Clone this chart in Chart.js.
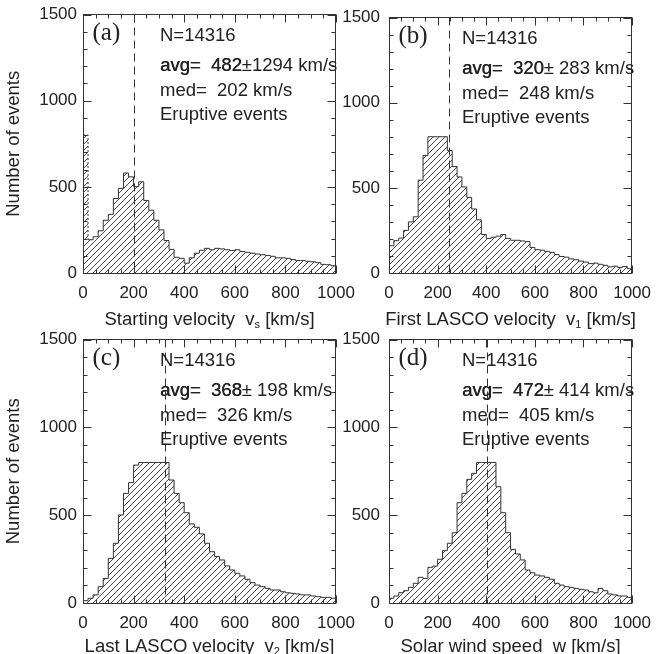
<!DOCTYPE html>
<html>
<head>
<meta charset="utf-8">
<script src="https://cdn.jsdelivr.net/npm/chart.js@4.4.0/dist/chart.umd.min.js"></script>
<style>
  html, body { margin: 0; padding: 0; background: #fff; }
  #wrap { position: relative; width: 663px; height: 654px; }
  #wrap canvas { position: absolute; left: 0; top: 0; }
</style>
</head>
<body>
<div id="wrap">
  <canvas id="pa" width="663" height="654"></canvas>
  <canvas id="pb" width="663" height="654"></canvas>
  <canvas id="pc" width="663" height="654"></canvas>
  <canvas id="pd" width="663" height="654"></canvas>
</div>
<script>
// histogram counts, 20 km/s bins from 0 to 1000 (clipped at 800)
const binWidth = 20;
const startVel = [800, 193, 210, 245, 306, 340, 432, 491, 580, 558, 501, 529, 421, 364, 306, 250, 188, 137, 91, 85,
  57, 88, 115, 132, 143, 135, 143, 140, 135, 130, 135, 125, 120, 115, 110, 106, 102, 97, 88, 88,
  85, 78, 72, 72, 68, 65, 60, 50, 48, 42];
const firstVel = [160, 190, 205, 250, 300, 330, 545, 690, 800, 800, 800, 800, 719, 625, 564, 505, 444, 376, 312, 226,
  203, 210, 216, 226, 203, 192, 192, 188, 184, 150, 137, 134, 127, 121, 108, 97, 93, 83, 78, 70,
  64, 55, 58, 51, 45, 36, 40, 32, 38, 25];
const lastVel = [13, 27, 46, 93, 140, 254, 340, 501, 624, 685, 785, 800, 800, 800, 800, 800, 800, 700, 624, 571,
  514, 450, 431, 393, 340, 292, 264, 245, 211, 188, 169, 154, 135, 116, 102, 93, 83, 74, 74, 64,
  58, 55, 51, 46, 46, 40, 36, 32, 32, 27];
const windSpeed = [27, 40, 59, 70, 89, 112, 146, 140, 203, 210, 249, 298, 340, 400, 571, 624, 704, 738, 800, 800,
  800, 800, 662, 514, 400, 305, 279, 245, 188, 172, 159, 154, 146, 135, 112, 102, 93, 89, 83, 78,
  74, 64, 58, 83, 70, 51, 46, 40, 40, 32];

const nEvents = 14316;
const avgVals = [482, 320, 368, 472];
const sdVals = [1294, 283, 198, 414];
const medVals = [202, 248, 326, 405];
const panelTags = ['(a)', '(b)', '(c)', '(d)'];
const xTitles = [['Starting velocity  v', 's', ' [km/s]'], ['First LASCO velocity  v', '1', ' [km/s]'],
  ['Last LASCO velocity  v', '2', ' [km/s]'], ['Solar wind speed  w [km/s]', '', '']];
const yTitle = 'Number of events';

const W = 663, H = 654;
const SANS = '"Liberation Sans", Arial, Helvetica, sans-serif';
const INK = '#222';
Chart.defaults.font.family = SANS;
Chart.defaults.color = INK;

// chart area of each panel, in page pixels
const boxes = [
  { left: 83, top: 9.5, right: 336, bottom: 273, gap: 6, txt: 77, title: 52 },
  { left: 389, top: 9.5, right: 638, bottom: 273, gap: 9, txt: 73, title: 52 },
  { left: 83, top: 339.5, right: 336, bottom: 603, gap: 6, txt: 77, title: 49 },
  { left: 389, top: 339.5, right: 638, bottom: 603, gap: 9, txt: 73, title: 49 }
];

function hatch() {
  const s = 6;
  const c = document.createElement('canvas');
  c.width = s; c.height = s;
  const g = c.getContext('2d');
  g.strokeStyle = '#333';
  g.lineWidth = 0.9;
  g.beginPath();
  g.moveTo(0, s); g.lineTo(s, 0);
  g.moveTo(-1, 1); g.lineTo(1, -1);
  g.moveTo(s - 1, s + 1); g.lineTo(s + 1, s - 1);
  g.stroke();
  return g.createPattern(c, 'repeat');
}

// box, inward ticks, median line and the texts
const deco = {
  id: 'deco',
  afterDatasetsDraw(chart, args, o) {
    const { ctx, chartArea: a, scales: { x, y } } = chart;
    ctx.save();
    ctx.strokeStyle = '#333';
    ctx.lineWidth = 1;

    const mx = Math.round(x.getPixelForValue(o.med)) + 0.5;
    ctx.setLineDash([8, 5]);
    ctx.beginPath();
    ctx.moveTo(mx, a.top); ctx.lineTo(mx, a.bottom);
    ctx.stroke();
    ctx.setLineDash([]);

    const L = Math.round(a.left) + 0.5, R = Math.round(a.right) - 0.5;
    const T = a.top, B = a.bottom + 0.5;
    ctx.strokeRect(L, T, R - L, B - T);

    ctx.beginPath();
    for (let v = 0; v <= 1000; v += 50) {
      const px = Math.round(x.getPixelForValue(v)) + 0.5;
      const len = v % 200 === 0 ? 8 : 4;
      ctx.moveTo(px, B); ctx.lineTo(px, B - len);
      ctx.moveTo(px, T); ctx.lineTo(px, T + len);
    }
    for (let v = 0; v <= 1500; v += 100) {
      const py = Math.round(y.getPixelForValue(v)) + 0.5;
      const len = v % 500 === 0 ? 8 : 4;
      ctx.moveTo(L, py); ctx.lineTo(L + len, py);
      ctx.moveTo(R, py); ctx.lineTo(R - len, py);
    }
    ctx.stroke();

    ctx.fillStyle = INK;
    ctx.textBaseline = 'alphabetic';
    ctx.textAlign = 'left';
    ctx.font = '25px "Liberation Serif", "Times New Roman", serif';
    ctx.fillText(o.tag, a.left + 9.5, T + 25.5);

    ctx.font = '18.5px ' + SANS;
    const tx = a.left + o.txt;
    ctx.fillText('N=' + nEvents, tx, T + 26.5);
    const head = 'avg= ' + String(o.avg).padStart(4, ' ');
    ctx.fillText(head, tx, T + 56);
    ctx.fillText(head, tx + 0.4, T + 56);
    const hw = ctx.measureText(head).width;
    ctx.fillText('\u00B1' + String(o.sd).padStart(4, ' ') + ' km/s', tx + hw, T + 56);
    ctx.fillText('med= ' + String(o.med).padStart(4, ' ') + ' km/s', tx, T + 81);
    ctx.fillText('Eruptive events', tx, T + 105);

    // x title with subscript
    const [p1, sub, p2] = o.xTitle;
    const w1 = ctx.measureText(p1).width;
    const w3 = ctx.measureText(p2).width;
    ctx.font = '11px ' + SANS;
    const w2 = ctx.measureText(sub).width;
    const cx = (a.left + a.right) / 2;
    const x0 = cx - (w1 + w2 + w3) / 2;
    const by = a.bottom + o.title;
    ctx.font = '18.5px ' + SANS;
    ctx.fillText(p1, x0, by);
    ctx.fillText(p2, x0 + w1 + w2, by);
    ctx.font = '11px ' + SANS;
    ctx.fillText(sub, x0 + w1, by + 3);

    if (o.yTitle) {
      ctx.font = '18.5px ' + SANS;
      ctx.translate(14, (a.top + a.bottom) / 2);
      ctx.rotate(-Math.PI / 2);
      ctx.textAlign = 'center';
      ctx.textBaseline = 'middle';
      ctx.fillText(yTitle, 0, 0);
    }
    ctx.restore();
  }
};

const series = [startVel, firstVel, lastVel, windSpeed];
['pa', 'pb', 'pc', 'pd'].forEach((id, k) => {
  const b = boxes[k];
  const counts = series[k];
  const pts = counts.map((c, i) => ({ x: i * binWidth, y: c }));
  pts.push({ x: counts.length * binWidth, y: counts[counts.length - 1] });
  new Chart(document.getElementById(id), {
    type: 'line',
    data: {
      datasets: [{
        data: pts,
        stepped: 'before',
        fill: 'origin',
        backgroundColor: hatch(),
        borderColor: '#333',
        borderWidth: 1,
        pointRadius: 0,
        // the off-scale first bin of panel (a) is drawn dotted
        segment: {
          borderDash: (c) => (k === 0 && c.p0DataIndex === 0 ? [2, 2] : undefined)
        }
      }]
    },
    options: {
      responsive: false,
      animation: false,
      events: [],
      layout: {
        padding: { left: b.left - 60, top: b.top, right: W - b.right, bottom: H - b.bottom - 60 }
      },
      plugins: {
        legend: { display: false },
        tooltip: { enabled: false },
        deco: {
          med: medVals[k], avg: avgVals[k], sd: sdVals[k], tag: panelTags[k],
          xTitle: xTitles[k], yTitle: k % 2 === 0, txt: b.txt, title: b.title
        }
      },
      scales: {
        x: {
          type: 'linear', min: 0, max: 1000,
          afterFit: (s) => { s.height = 60; },
          grid: { display: false, drawTicks: false },
          border: { display: false },
          ticks: {
            stepSize: 200, padding: 12, maxRotation: 0, autoSkip: false, color: INK,
            font: { size: 17, lineHeight: 1 }, callback: (v) => String(v)
          }
        },
        y: {
          type: 'linear', min: 0, max: 1500,
          afterFit: (s) => { s.width = 60; },
          grid: { display: false, drawTicks: false },
          border: { display: false },
          ticks: {
            stepSize: 500, padding: b.gap, color: INK,
            font: { size: 17, lineHeight: 1 }, callback: (v) => String(v)
          }
        }
      }
    },
    plugins: [deco]
  });
});
</script>
</body>
</html>
